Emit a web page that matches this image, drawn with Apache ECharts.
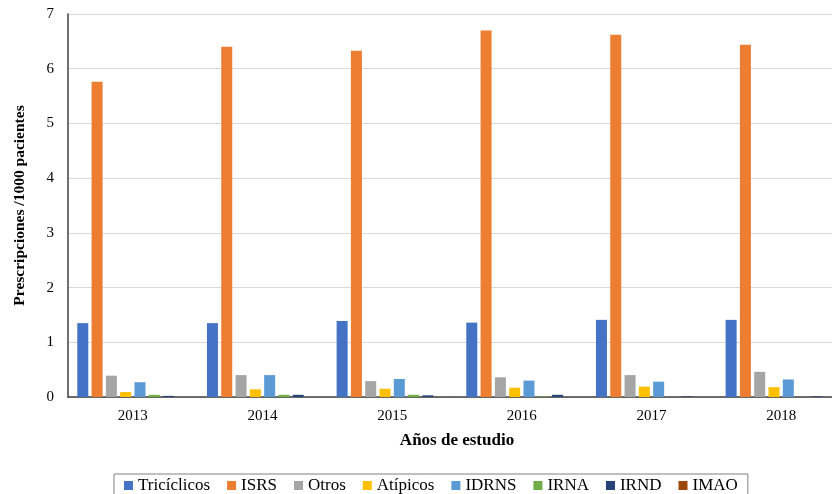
<!DOCTYPE html>
<html>
<head>
<meta charset="utf-8">
<script src="https://cdn.jsdelivr.net/npm/echarts@6/dist/echarts.min.js"></script>
<style>
  html, body { margin: 0; padding: 0; background: #fff; }
  #chart { width: 832px; height: 494px; }
</style>
</head>
<body>
<div id="chart"></div>
<script>
const years = ["2013", "2014", "2015", "2016", "2017", "2018"];
const triciclicos = [1.35, 1.35, 1.39, 1.36, 1.41, 1.41];
const isrs = [5.76, 6.40, 6.33, 6.70, 6.62, 6.44];
const otros = [0.39, 0.40, 0.29, 0.36, 0.40, 0.46];
const atipicos = [0.09, 0.14, 0.15, 0.17, 0.19, 0.18];
const idrns = [0.27, 0.40, 0.33, 0.30, 0.28, 0.32];
const irna = [0.04, 0.04, 0.04, 0.01, 0, 0];
const irnd = [0.02, 0.04, 0.03, 0.04, 0.01, 0.01];
const imao = [0, 0, 0, 0, 0, 0];
const yTicks = [0, 1, 2, 3, 4, 5, 6, 7];

const serif = "Liberation Serif";
const seriesDefs = [
  { name: "Tricíclicos", data: triciclicos, color: "#4472C4" },
  { name: "ISRS", data: isrs, color: "#ED7D31" },
  { name: "Otros", data: otros, color: "#A5A5A5" },
  { name: "Atípicos", data: atipicos, color: "#FFC000" },
  { name: "IDRNS", data: idrns, color: "#5B9BD5" },
  { name: "IRNA", data: irna, color: "#70AD47" },
  { name: "IRND", data: irnd, color: "#264478" },
  { name: "IMAO", data: imao, color: "#9E480E" },
];

const myChart = echarts.init(document.getElementById("chart"));
const option = {
  animation: false,
  grid: { left: 68, right: -14, top: 14, bottom: 97, containLabel: false, outerBoundsMode: "none" },
  legend: {
    top: 474,
    left: 114,
    icon: "rect",
    itemWidth: 9,
    itemHeight: 9,
    itemGap: 17,
    borderColor: "#808080",
    borderWidth: 1,
    padding: [3, 10, 8, 10],
    textStyle: { fontFamily: serif, fontSize: 17, color: "#000" },
    data: seriesDefs.map((s) => s.name),
  },
  xAxis: {
    type: "category",
    data: years,
    name: "Años de estudio",
    nameLocation: "middle",
    nameGap: 35,
    nameTextStyle: { fontFamily: serif, fontSize: 17, fontWeight: "bold", color: "#000" },
    axisLine: { lineStyle: { color: "#404040", width: 1.5 } },
    axisTick: { show: false },
    axisLabel: { fontFamily: serif, fontSize: 15, color: "#000", margin: 12 },
  },
  yAxis: {
    type: "value",
    min: yTicks[0],
    max: yTicks[yTicks.length - 1],
    interval: 1,
    name: "Prescripciones /1000 pacientes",
    nameLocation: "middle",
    nameGap: 40,
    nameTextStyle: { fontFamily: serif, fontSize: 15.5, fontWeight: "bold", color: "#000" },
    axisLine: { show: true, lineStyle: { color: "#404040", width: 1.5 } },
    axisTick: { show: false },
    axisLabel: { fontFamily: serif, fontSize: 15, color: "#000", margin: 14 },
    splitLine: { lineStyle: { color: "#d9d9d9", width: 1 } },
  },
  series: seriesDefs.map((s) => ({
    name: s.name,
    type: "bar",
    data: s.data,
    barWidth: 11,
    barGap: "30%",
    itemStyle: { color: s.color },
  })),
};
myChart.setOption(option);
</script>
</body>
</html>
